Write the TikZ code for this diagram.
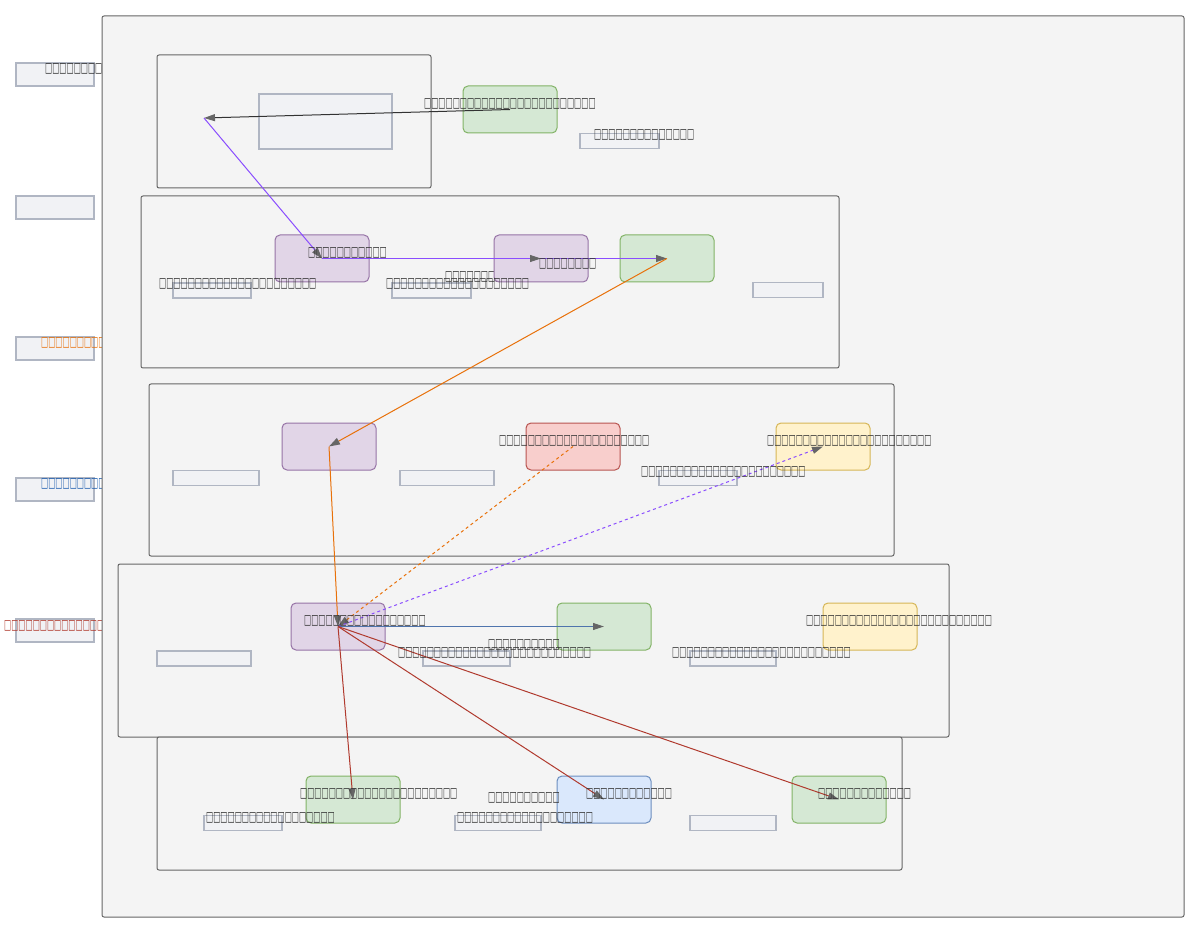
\documentclass[tikz,border=0pt]{standalone}
\usepackage{fontspec}
\newfontfamily\tofufont[FakeStretch=0.54]{DejaVu Sans}
\usetikzlibrary{arrows.meta}
\definecolor{bgfill}{HTML}{F4F4F4}
\definecolor{lanegray}{HTML}{666666}
\definecolor{taggray}{HTML}{B0B6C3}
\definecolor{tagfill}{HTML}{F1F2F5}
\definecolor{txt}{HTML}{333333}
\definecolor{arrgray}{HTML}{666666}
\definecolor{purfill}{HTML}{E1D5E7}\definecolor{purline}{HTML}{9673A6}
\definecolor{grnfill}{HTML}{D5E8D4}\definecolor{grnline}{HTML}{82B366}
\definecolor{redfill}{HTML}{F8CECC}\definecolor{redline}{HTML}{B85450}
\definecolor{yelfill}{HTML}{FFF2CC}\definecolor{yelline}{HTML}{D6B656}
\definecolor{blufill}{HTML}{DAE8FC}\definecolor{bluline}{HTML}{6C8EBF}
\definecolor{eviolet}{HTML}{8A4DFF}
\definecolor{eorange}{HTML}{E8710A}
\definecolor{eblue}{HTML}{4F74AD}
\definecolor{ered}{HTML}{B03A2E}
\definecolor{edark}{HTML}{333333}
\definecolor{lorange}{HTML}{E8710A}
\definecolor{lblue}{HTML}{1F5FB0}
\definecolor{lred}{HTML}{B03A2E}
\tikzset{
  lane/.style={draw=lanegray, fill=bgfill, rounded corners=2pt, line width=1pt},
  tag/.style={draw=taggray, fill=tagfill, line width=1.2pt, inner sep=0pt, minimum height=15pt},
  nd/.style={rounded corners=5pt, line width=1pt, inner sep=0pt, minimum width=94pt, minimum height=47pt},
  purnd/.style={nd, draw=purline, fill=purfill},
  grnnd/.style={nd, draw=grnline, fill=grnfill},
  rednd/.style={nd, draw=redline, fill=redfill},
  yelnd/.style={nd, draw=yelline, fill=yelfill},
  blund/.style={nd, draw=bluline, fill=blufill},
  lbl/.style={anchor=west, inner sep=0pt, yshift=-1pt, font=\tofufont\fontsize{14}{14}\selectfont, text=txt},
  arr/.style={-{Triangle[length=11pt,width=7pt,color=arrgray]}, line width=1pt},
}
\begin{document}
\begin{tikzpicture}[x=1pt,y=-1pt]
\useasboundingbox (0,0) rectangle (1200,933);
% legend boxes
\node[tag, minimum width=78pt, minimum height=23pt] (lg1) at (55,74.5) {};
\node[tag, minimum width=78pt, minimum height=23pt] (lg2) at (55,207.5) {};
\node[tag, minimum width=78pt, minimum height=23pt] (lg3) at (55,348.5) {};
\node[tag, minimum width=78pt, minimum height=23pt] (lg4) at (55,489.5) {};
\node[tag, minimum width=78pt, minimum height=23pt] (lg5) at (55,630.5) {};
\node[lbl] (lt1) at (45,68) {□□□□□□□□□};
\node[lbl, text=lorange] (lt3) at (41,342) {□□□□□□□□□□};
\node[lbl, text=lblue] (lt4) at (41,483) {□□□□□□□□□□};
\node[lbl, text=lred] (lt5) at (4,625) {□□□□□□□□□□□□□□□□};
% container
\draw[lane] (102,16) rectangle (1184,917);
% lanes
\draw[lane] (157,55) rectangle (431,188);
\draw[lane] (141,196) rectangle (839,368);
\draw[lane] (149,384) rectangle (894,556);
\draw[lane] (118,564) rectangle (949,737);
\draw[lane] (157,737) rectangle (902,870);
% lane 1
\node[tag, minimum width=133pt, minimum height=55pt] (big1) at (325.5,121.5) {};
\node[grnnd] (g1) at (510,109.5) {};
\node[tag, minimum width=79pt] (t1) at (619.5,141) {};
\coordinate (p0) at (204,118);
% lane 2 tags
\node[tag, minimum width=78pt] (t2a) at (212,290.5) {};
\node[tag, minimum width=79pt] (t2b) at (431.5,290.5) {};
\node[tag, minimum width=70pt] (t2c) at (788,290) {};
\node[lbl] (l2c) at (445,276) {□□□□□□□□};
\node[purnd] (p2a) at (322,258.5) {};
\node[purnd] (p2b) at (541,258.5) {};
\node[grnnd] (g2) at (667,258.5) {};
% lane 3
\node[tag, minimum width=86pt] (t3a) at (216,478) {};
\node[tag, minimum width=94pt] (t3b) at (447,478) {};
\node[tag, minimum width=78pt] (t3c) at (698,478) {};
\node[purnd] (p3) at (329,446.5) {};
\node[rednd] (r3) at (573,446.5) {};
\node[yelnd] (y3) at (823,446.5) {};
% lane 4
\node[tag, minimum width=94pt] (t4a) at (204,658.5) {};
\node[tag, minimum width=87pt] (t4b) at (466.5,658.5) {};
\node[tag, minimum width=86pt] (t4c) at (733,658.5) {};
\node[purnd] (p4) at (338,626.5) {};
\node[grnnd] (g4) at (604,626.5) {};
\node[yelnd] (y4) at (870,626.5) {};
% lane 5
\node[tag, minimum width=78pt] (t5a) at (243,823) {};
\node[tag, minimum width=86pt] (t5b) at (498,823) {};
\node[tag, minimum width=86pt] (t5c) at (733,823) {};
\node[grnnd] (g5a) at (353,799.5) {};
\node[blund] (b5) at (604,799.5) {};
\node[grnnd] (g5b) at (839,799.5) {};
% edges
\draw[arr, edark] (g1.center) -- (p0);
\draw[arr, eviolet] (p0) -- (p2a.center);
\draw[arr, eviolet] (p2a.center) -- (p2b.center);
\draw[arr, eviolet] (p2b.center) -- (g2.center);
\draw[arr, eorange] (g2.center) -- (p3.center);
\draw[arr, eorange] (p3.center) -- (p4.center);
\draw[arr, eorange, dashed] (r3.center) -- (p4.center);
\draw[arr, eviolet, dashed] (p4.center) -- (y3.center);
\draw[arr, eblue] (p4.center) -- (g4.center);
\draw[arr, ered] (p4.center) -- (g5a.center);
\draw[arr, ered] (p4.center) -- (b5.center);
\draw[arr, ered] (p4.center) -- (g5b.center);
% labels
\node[lbl] (l1a) at (424,103) {□□□□□□□□□□□□□□□□□□□□□□□□};
\node[lbl] (l1b) at (594,134) {□□□□□□□□□□□□□□};
\node[lbl] (l2a) at (308,252) {□□□□□□□□□□□};
\node[lbl] (l2b) at (539,263) {□□□□□□□□};
\node[lbl] (l2d) at (159,283) {□□□□□□□□□□□□□□□□□□□□□□};
\node[lbl] (l2e) at (386,283) {□□□□□□□□□□□□□□□□□□□□};
\node[lbl] (l3a) at (499,440) {□□□□□□□□□□□□□□□□□□□□□};
\node[lbl] (l3b) at (767,440) {□□□□□□□□□□□□□□□□□□□□□□□};
\node[lbl] (l3c) at (641,471) {□□□□□□□□□□□□□□□□□□□□□□□};
\node[lbl] (l4a) at (304,620) {□□□□□□□□□□□□□□□□□};
\node[lbl] (l4b) at (488,644) {□□□□□□□□□□};
\node[lbl] (l4c) at (398,652) {□□□□□□□□□□□□□□□□□□□□□□□□□□□};
\node[lbl] (l4d) at (672,652) {□□□□□□□□□□□□□□□□□□□□□□□□□};
\node[lbl] (l4e) at (806,620) {□□□□□□□□□□□□□□□□□□□□□□□□□□};
\node[lbl] (l5a) at (300,793) {□□□□□□□□□□□□□□□□□□□□□□};
\node[lbl] (l5b) at (488,797) {□□□□□□□□□□};
\node[lbl] (l5c) at (586,793) {□□□□□□□□□□□□};
\node[lbl] (l5d) at (818,793) {□□□□□□□□□□□□□};
\node[lbl] (l5e) at (206,817) {□□□□□□□□□□□□□□□□□□};
\node[lbl] (l5f) at (457,817) {□□□□□□□□□□□□□□□□□□□};
\end{tikzpicture}
\end{document}
